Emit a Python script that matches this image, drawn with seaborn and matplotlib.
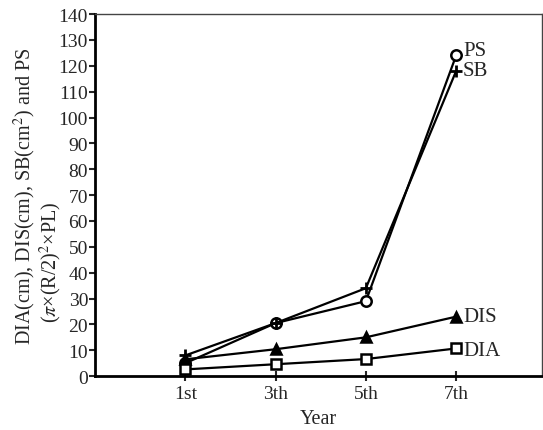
import matplotlib
matplotlib.use("Agg")
import matplotlib.pyplot as plt
import seaborn as sns
import pandas as pd

years = [1, 3, 5, 7]
year_labels = ["1st", "3th", "5th", "7th"]
ps = [5.0, 20.5, 29.0, 124.0]
sb = [8.0, 20.5, 34.0, 118.0]
dis = [6.5, 10.4, 15.0, 23.0]
dia = [2.6, 4.6, 6.6, 10.7]
yticks = list(range(0, 141, 10))

sns.set_style("white")
plt.rcParams["font.family"] = ["Liberation Serif", "DejaVu Serif"]
plt.rcParams["mathtext.fontset"] = "stix"

fig = plt.figure(figsize=(5.43, 4.31), dpi=100)
ax = fig.add_axes([0.175, 0.125, 0.823, 0.840])

series = [
    ("PS", ps, "o", "white", 7.5),
    ("SB", sb, "P", "black", 0),
    ("DIS", dis, "^", "black", 7),
    ("DIA", dia, "s", "white", 7),
]
for name, vals, mk, fc, ms in series:
    df = pd.DataFrame({"year": years, "value": vals})
    if mk == "P":
        sns.lineplot(data=df, x="year", y="value", ax=ax, color="black",
                     linewidth=1.6, marker="+", markersize=9,
                     markeredgewidth=2.0, markeredgecolor="black")
    else:
        sns.lineplot(data=df, x="year", y="value", ax=ax, color="black",
                     linewidth=1.6, marker=mk, markersize=ms,
                     markerfacecolor=fc, markeredgecolor="black",
                     markeredgewidth=1.8)

label_pos = {"PS": (7.15, 126), "SB": (7.15, 118), "DIS": (7.15, 23.2), "DIA": (7.15, 10)}
for name, (lx, ly) in label_pos.items():
    ax.text(lx, ly, name, fontsize=15, va="center", ha="left")

ax.set_xlim(-1, 8.9)
ax.set_ylim(0, 140)
ax.set_xticks(years)
ax.set_xticklabels(year_labels, fontsize=14)
ax.set_yticks(yticks)
ax.set_yticklabels([str(t) for t in yticks], fontsize=14)
ax.tick_params(axis="y", direction="out", length=4, width=1.5, pad=1, left=True)
ax.tick_params(axis="x", direction="inout", length=7, width=1.5, pad=3, bottom=True)
ax.set_xlabel("Year", fontsize=14.5, labelpad=5)
ax.set_ylabel("")

for side in ["left", "bottom"]:
    ax.spines[side].set_linewidth(2.0)
    ax.spines[side].set_color("black")
for side in ["top", "right"]:
    ax.spines[side].set_linewidth(1.0)
    ax.spines[side].set_color("#444444")

fig.text(0.045, 0.545, "DIA(cm), DIS(cm), SB(cm$^2$) and PS", rotation=90,
         ha="center", va="center", fontsize=14.5)
fig.text(0.094, 0.392, "($\\pi$×(R/2)$^2$×PL)", rotation=90,
         ha="center", va="center", fontsize=14.5)

fig.savefig("out.png", dpi=100)
